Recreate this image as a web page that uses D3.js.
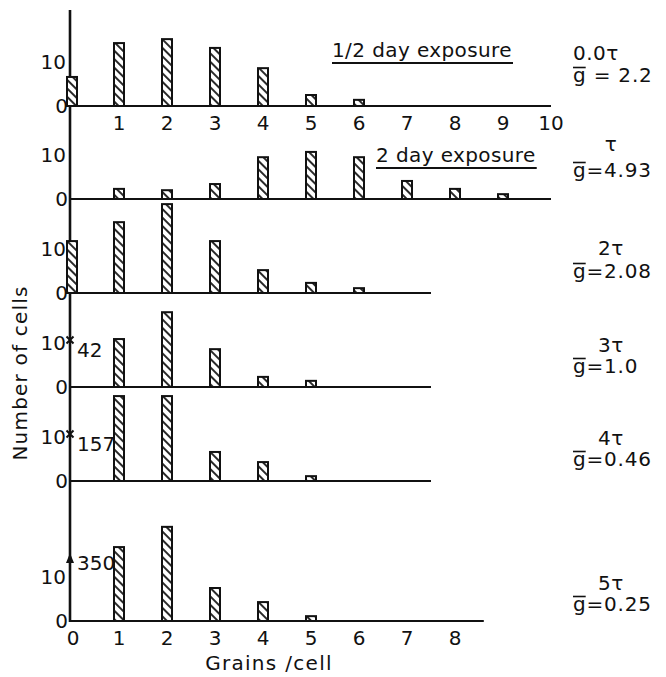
<!DOCTYPE html>
<html>
<head>
<meta charset="utf-8">
<script src="https://cdn.jsdelivr.net/npm/d3@7/dist/d3.min.js"></script>
<style>
  html, body { margin: 0; padding: 0; background: #fff; }
  svg { display: block; }
  text { font-family: "DejaVu Sans", sans-serif; fill: #111; }
</style>
</head>
<body>
<svg id="chart" width="666" height="677"></svg>
<script>
// Grain-count histograms: number of cells carrying 0..n silver grains
const grains = [0, 1, 2, 3, 4, 5, 6, 7, 8, 9];
const cellsHalfDay = [6.6, 14.3, 15.2, 13.2, 8.6, 2.5, 1.4];
const cellsTau     = [0, 2.3, 2.0, 3.4, 9.5, 10.7, 9.5, 4.1, 2.3, 1.1];
const cells2Tau    = [11.8, 16.1, 20.2, 11.8, 5.2, 2.3, 1.1];
const cells3Tau    = [null, 10.9, 17.0, 8.6, 2.3, 1.4];
const cells4Tau    = [null, 19.3, 19.3, 6.6, 4.3, 1.1];
const cells5Tau    = [null, 16.8, 21.4, 7.5, 4.3, 1.1];

const timeLabels  = ["0.0\u03c4", "\u03c4", "2\u03c4", "3\u03c4", "4\u03c4", "5\u03c4"];
const meanGrains  = [" = 2.2", "=4.93", "=2.08", "=1.0", "=0.46", "=0.25"];
const exposureLabels = ["1/2 day exposure", "2 day exposure", null, null, null, null];
const zeroCountNotes = [null, null, null, "42", "157", "350"];
const zeroCountMarks = [null, null, null, "times", "times", "arrow"];
const axisExtent = [10, 10, 7.5, 7.5, 7.5, 8.6];

const xTicksTop = [1, 2, 3, 4, 5, 6, 7, 8, 9, 10];
const xTicksBottom = [0, 1, 2, 3, 4, 5, 6, 7, 8];
const yTicks = [0, 10];

const series = [cellsHalfDay, cellsTau, cells2Tau, cells3Tau, cells4Tau, cells5Tau];

// ---- layout ----
const baselines = [106, 199, 293, 387, 481, 621];
const axisX = 70;
const FS = 20;

const svg = d3.select("#chart");

const x = d3.scaleLinear().domain([0, 10]).range([71, 551]);
const yFor = b => d3.scaleLinear().domain([0, 10]).range([b, b - 44]);

// hatch fill
const defs = svg.append("defs");
const pat = defs.append("pattern")
  .attr("id", "hatch")
  .attr("patternUnits", "userSpaceOnUse")
  .attr("width", 6).attr("height", 6)
  .attr("patternTransform", "rotate(45)");
pat.append("rect").attr("width", 6).attr("height", 6).attr("fill", "#fff");
pat.append("line").attr("x1", 0).attr("y1", 3).attr("x2", 6).attr("y2", 3)
  .attr("stroke", "#111").attr("stroke-width", 1.8);

// left vertical axis
svg.append("line")
  .attr("x1", axisX).attr("x2", axisX)
  .attr("y1", 10).attr("y2", baselines[5] + 1)
  .attr("stroke", "#111").attr("stroke-width", 2.6);

const barW = 10;

series.forEach((vals, i) => {
  const b = baselines[i];
  const y = yFor(b);
  const g = svg.append("g");

  // bars
  g.selectAll("rect.bar")
    .data(vals.map((v, k) => ({ k: grains[k], v })).filter(d => d.v !== null && d.v > 0))
    .join("rect")
    .attr("class", "bar")
    .attr("x", d => x(d.k) - barW / 2 + (d.k === 0 ? 1 : 0))
    .attr("width", barW)
    .attr("y", d => y(d.v))
    .attr("height", d => y(0) - y(d.v))
    .attr("fill", "url(#hatch)")
    .attr("stroke", "#111")
    .attr("stroke-width", 2);

  // baseline
  g.append("line")
    .attr("x1", axisX).attr("x2", x(axisExtent[i]))
    .attr("y1", y(0)).attr("y2", y(0))
    .attr("stroke", "#111").attr("stroke-width", 2.2);

  // y tick labels
  g.selectAll("text.ytick")
    .data(yTicks)
    .join("text")
    .attr("class", "ytick")
    .attr("x", d => d === 0 ? axisX - 2 : axisX - 4)
    .attr("y", d => y(d) + 7)
    .attr("text-anchor", "end")
    .attr("font-size", FS)
    .text(d => d);

  // off-scale note for the zero-grain class
  if (zeroCountMarks[i] === "times") {
    const cy = y(10) - 3, r = 3.5;
    g.append("path")
      .attr("d", `M${axisX - r},${cy - r} L${axisX + r},${cy + r} M${axisX + r},${cy - r} L${axisX - r},${cy + r}`)
      .attr("stroke", "#111").attr("stroke-width", 2);
  } else if (zeroCountMarks[i] === "arrow") {
    const tip = y(0) - 68;
    g.append("path")
      .attr("d", `M${axisX},${tip} L${axisX - 4},${tip + 10} L${axisX + 4},${tip + 10} Z`)
      .attr("fill", "#111");
  }
  if (zeroCountNotes[i]) {
    const ny = zeroCountMarks[i] === "arrow" ? y(0) - 51 : y(10) + 14;
    g.append("text")
      .attr("x", axisX + 7).attr("y", ny)
      .attr("font-size", FS)
      .text(zeroCountNotes[i]);
  }

  // exposure caption with underline
  if (exposureLabels[i]) {
    const lx = i === 0 ? 332 : 376;
    const ly = i === 0 ? 57 : 162;
    const t = g.append("text")
      .attr("x", lx).attr("y", ly)
      .attr("font-size", FS)
      .attr("letter-spacing", 0.4)
      .text(exposureLabels[i]);
    const w = t.node().getComputedTextLength();
    g.append("line")
      .attr("x1", lx).attr("x2", lx + w + 1)
      .attr("y1", ly + 6).attr("y2", ly + 6)
      .attr("stroke", "#111").attr("stroke-width", 2);
  }

  // right-hand labels: time and mean grain count
  const gy = [82, 177, 278, 373, 466, 611][i];
  const ty = [60, 151, 255, 352, 445, 590][i];
  g.append("text")
    .attr("x", i === 0 ? 573 : 611)
    .attr("y", ty)
    .attr("text-anchor", i === 0 ? "start" : "middle")
    .attr("font-size", FS)
    .attr("letter-spacing", 0.5)
    .text(timeLabels[i]);
  const mt = g.append("text")
    .attr("x", 573).attr("y", gy)
    .attr("font-size", FS)
    .attr("letter-spacing", 0.8);
  mt.append("tspan").text("g");
  mt.append("tspan").text(meanGrains[i]);
  const gw = mt.node().getSubStringLength(0, 1) - 0.8;
  g.append("line")
    .attr("x1", 573).attr("x2", 573 + gw)
    .attr("y1", gy - 14.5).attr("y2", gy - 14.5)
    .attr("stroke", "#111").attr("stroke-width", 1.6);
});

// x tick labels: top panel and bottom panel
const yTop = yFor(baselines[0]);
svg.append("g").selectAll("text")
  .data(xTicksTop)
  .join("text")
  .attr("x", d => x(d))
  .attr("y", yTop(0) + 24)
  .attr("text-anchor", "middle")
  .attr("font-size", FS)
  .text(d => d);

const yBot = yFor(baselines[5]);
svg.append("g").selectAll("text")
  .data(xTicksBottom)
  .join("text")
  .attr("x", d => x(d) + (d === 0 ? 2 : 0))
  .attr("y", yBot(0) + 24)
  .attr("text-anchor", "middle")
  .attr("font-size", FS)
  .text(d => d);

// axis titles
svg.append("text")
  .attr("x", 269).attr("y", 670)
  .attr("text-anchor", "middle")
  .attr("font-size", 20)
  .attr("letter-spacing", 1.3)
  .text("Grains /cell");

svg.append("text")
  .attr("transform", "translate(27,373) rotate(-90)")
  .attr("text-anchor", "middle")
  .attr("font-size", 20)
  .attr("letter-spacing", 1.2)
  .text("Number of cells");
</script>
</body>
</html>
